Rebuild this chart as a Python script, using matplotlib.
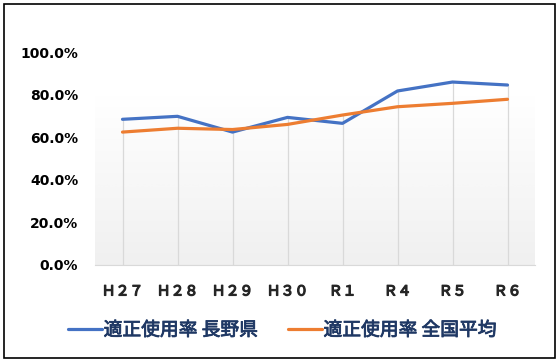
import numpy as np
import matplotlib.pyplot as plt
import matplotlib.patheffects as pe
from matplotlib.patches import Rectangle

plt.rcParams['font.family'] = ['Noto Sans CJK JP', 'DejaVu Sans']

years = ["Ｈ２７", "Ｈ２８", "Ｈ２９", "Ｈ３０", "Ｒ１", "Ｒ４", "Ｒ５", "Ｒ６"]
nagano = [68.4, 69.8, 62.4, 69.3, 66.5, 81.7, 85.9, 84.5]
national = [62.4, 64.2, 63.6, 66.0, 70.4, 74.3, 75.9, 77.8]
yticks = [0, 20, 40, 60, 80, 100]

fig = plt.figure(figsize=(5.59, 3.62), dpi=100)
ax = fig.add_axes([95 / 559, 1 - 265 / 362, 440 / 559, 213 / 362])

# faint vertical gradient in the plot area
grad = np.linspace(0, 1, 100).reshape(-1, 1)
ax.imshow(grad, extent=(-0.5, 7.5, 0, 82), aspect="auto", cmap="Greys",
          vmin=0, vmax=8, origin="upper", zorder=0)

x = np.arange(len(years))
# drop lines from the higher series down to the axis
ax.vlines(x, 0, np.maximum(nagano, national), color="#d9d9d9", lw=0.9,
          zorder=1)

ax.plot(x, nagano, color="#4472C4", lw=2.3, label="適正使用率 長野県",
        solid_capstyle="round", zorder=3)
ax.plot(x, national, color="#ED7D31", lw=2.3, label="適正使用率 全国平均",
        solid_capstyle="round", zorder=3)

ax.set_xlim(-0.5, 7.5)
ax.set_ylim(0, 100)
ax.set_yticks(yticks)
ax.set_yticklabels([f"{v:.1f}%" for v in yticks], fontsize=10,
                   fontweight="bold", family=["DejaVu Sans"])
ax.set_xticks(x)
ax.set_xticklabels(years, fontsize=10, color="#262626")
bold = [pe.withStroke(linewidth=0.9, foreground="#262626")]
for t in ax.get_xticklabels():
    t.set_path_effects(bold)
ax.tick_params(axis="y", length=0, pad=12)
ax.tick_params(axis="x", length=0, pad=14)

for s in ["top", "right", "left"]:
    ax.spines[s].set_visible(False)
ax.spines["bottom"].set_color("#d9d9d9")

leg = fig.legend(loc="center", bbox_to_anchor=(0.505, 1 - 330 / 362), ncol=2,
                 frameon=False, fontsize=13.5, handlelength=1.8,
                 handletextpad=0.1, columnspacing=1.6)
for t in leg.get_texts():
    t.set_color("#1F3864")
    t.set_path_effects([pe.withStroke(linewidth=0.6, foreground="#1F3864")])

fig.patches.append(Rectangle((4 / 559, 4 / 362), 551 / 559, 354 / 362,
                             transform=fig.transFigure, fill=False,
                             edgecolor="black", lw=1.2))

fig.savefig("out.png", dpi=100)
